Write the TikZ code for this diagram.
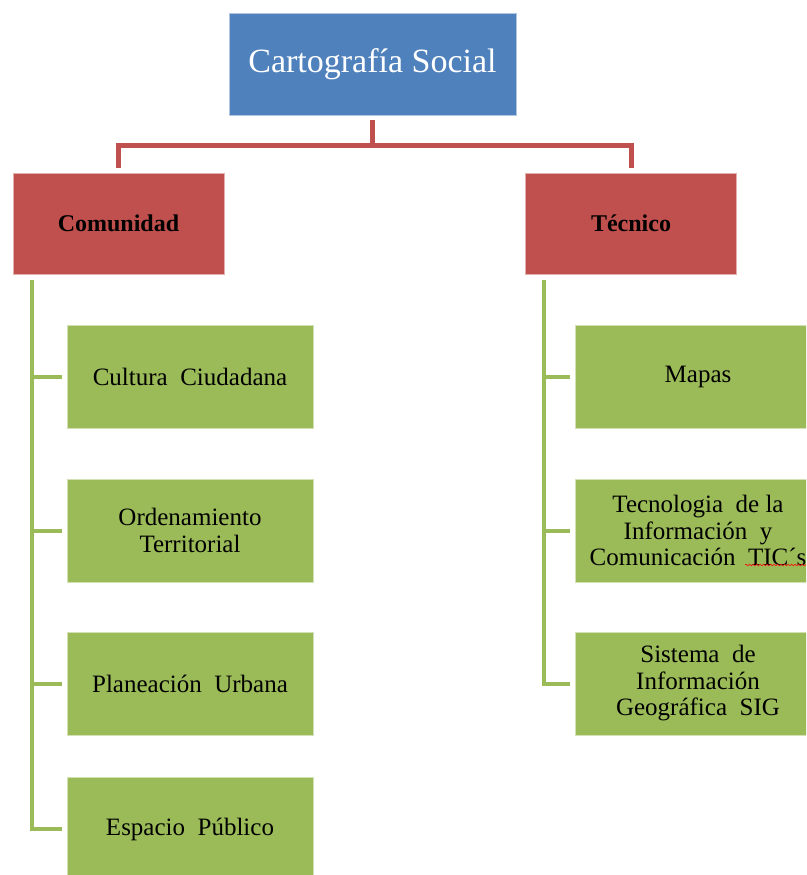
\documentclass[tikz,border=0pt]{standalone}
\usepackage{fontspec}
\setmainfont{Liberation Serif}
\usetikzlibrary{decorations.pathmorphing}
\definecolor{cartoblue}{HTML}{4F81BD}
\definecolor{cartored}{HTML}{C0504D}
\definecolor{cartogreen}{HTML}{9BBB59}

\begin{document}
\begin{tikzpicture}[x=1pt,y=-1pt]
\tikzstyle{every node}+=[inner sep=0pt, align=center]
\tikzstyle{rootbox}=[rectangle, fill=cartoblue, draw=cartoblue!45!white, line width=0.8pt, minimum width=287pt, minimum height=102pt, text=white, font=\fontsize{34}{40}\selectfont]
\tikzstyle{areabox}=[rectangle, fill=cartored, draw=cartored!45!white, line width=0.8pt, minimum width=211pt, minimum height=101pt, font=\fontsize{24}{28}\selectfont\bfseries]
\tikzstyle{itembox}=[rectangle, fill=cartogreen, draw=cartogreen!45!white, line width=0.8pt, minimum width=246pt, minimum height=103pt, font=\fontsize{25}{26.5}\selectfont]
\tikzstyle{redline}=[cartored, line width=5pt, shorten <=5pt, shorten >=5pt]
\tikzstyle{greenline}=[cartogreen, line width=4pt, shorten <=6pt, shorten >=5pt]
\useasboundingbox (0,0) rectangle (806,875);
\clip (0,0) rectangle (806,875);
\node [rootbox] (carto) at (372.5,64) {Cartografía Social};
\node [areabox] (comunidad) at (118.5,223.5) {Comunidad};
\node [areabox] (tecnico) at (631,223.5) {Técnico};
\node [itembox] (cultura) at (190,376.5) {Cultura\ \ Ciudadana};
\node [itembox] (ordenamiento) at (190,530.5) {Ordenamiento\\Territorial};
\node [itembox] (planeacion) at (190,683.5) {Planeación\ \ Urbana};
\node [itembox] (espacio) at (190,829) {Espacio\ \ Público};
\node [itembox] (mapas) at (698,376.5) {Mapas};
\node [itembox] (tics) at (698,530.5) {Tecnologia\ \ de la\\Información\ \ y\\Comunicación\ \ TIC´s};
\node [itembox] (sig) at (698,683.5) {Sistema\ \ de\\Información\\Geográfica\ \ SIG};
\draw [redline] (carto.south) -- ++(0,30) -| (comunidad.north);
\draw [redline] (carto.south) -- ++(0,30) -| (tecnico.north);
\foreach \item in {cultura,ordenamiento,planeacion,espacio}
  \draw [greenline] ([xshift=19pt]comunidad.south west) |- (\item.west);
\foreach \item in {mapas,tics,sig}
  \draw [greenline] ([xshift=19pt]tecnico.south west) |- (\item.west);
\coordinate (squig1) at (745,565);
\coordinate (squig2) at (806,565);
\draw [red, line width=0.6pt, decorate, decoration={snake, amplitude=0.8pt, segment length=3.5pt}] (squig1) -- (squig2);
\end{tikzpicture}
\end{document}
